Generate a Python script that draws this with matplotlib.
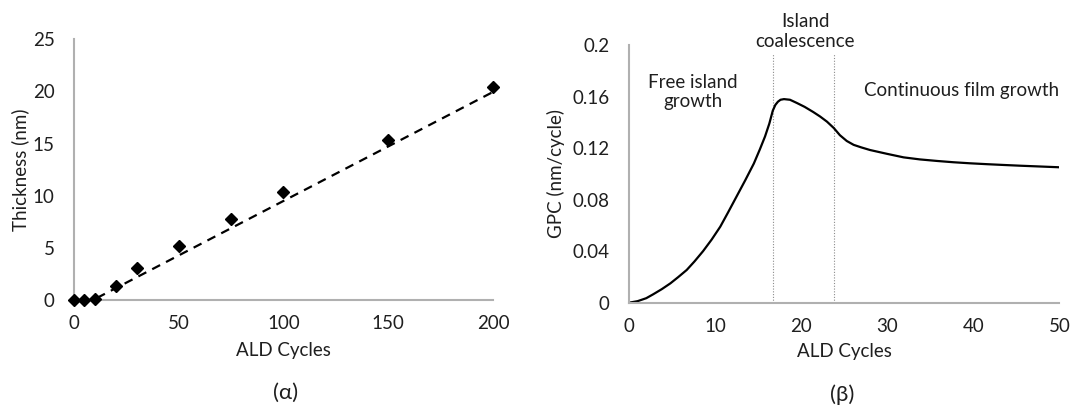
import matplotlib
matplotlib.use("Agg")
import matplotlib.pyplot as plt
import numpy as np

# (a) thickness vs ALD cycles
cycles_a = [0, 5, 10, 20, 30, 50, 75, 100, 150, 200]
thickness = [0.0, 0.0, 0.1, 1.3, 3.05, 5.15, 7.75, 10.4, 15.3, 20.4]
trend_x = [11, 200]
trend_y = [0.2, 19.95]

# (b) growth per cycle vs ALD cycles
cycles_b = [0, 1, 2, 2.8, 3.8, 4.8, 5.7, 6.7, 7.6, 8.6, 9.6, 10.6, 11.5, 12.5,
            13.5, 14.5, 15.2, 15.8, 16.3, 16.7, 17.0, 17.3, 17.6, 18.0, 18.7,
            19.5, 20.4, 21.4, 22.2, 23.0, 23.8, 24.5, 25.3, 26.1, 27.0, 28.0,
            30.0, 31.9, 33.8, 35.8, 37.7, 39.6, 41.6, 43.5, 45.5, 47.4, 50]
gpc = [0, 0.0012, 0.0035, 0.0065, 0.0105, 0.015, 0.0198, 0.0254, 0.032, 0.040,
       0.049, 0.059, 0.070, 0.0825, 0.095, 0.108, 0.119, 0.129, 0.139, 0.149,
       0.1535, 0.1560, 0.1575, 0.158, 0.1575, 0.155, 0.152, 0.148, 0.1445,
       0.1405, 0.1355, 0.130, 0.1255, 0.1225, 0.1205, 0.1185, 0.1155, 0.1128,
       0.1112, 0.110, 0.109, 0.1082, 0.1075, 0.1069, 0.1063, 0.1058, 0.1051]
regions = [16.7, 23.8]

plt.rcParams["font.family"] = ["Lato", "DejaVu Sans"]
plt.rcParams["font.size"] = 13.5
spine_color = "#b0b0b0"
text_color = "#1f1f1f"

fig = plt.figure(figsize=(10.72, 4.08), dpi=100)
ax1 = fig.add_axes([0.069, 0.2647, 0.3909, 0.639])
ax2 = fig.add_axes([0.5868, 0.2581, 0.4014, 0.6316])

for ax in (ax1, ax2):
    ax.spines["top"].set_visible(False)
    ax.spines["right"].set_visible(False)
    for s in ("left", "bottom"):
        ax.spines[s].set_color(spine_color)
        ax.spines[s].set_linewidth(1.5)
    ax.tick_params(length=0, colors=text_color, labelsize=13.5)
    ax.tick_params(axis="y", pad=14)
    ax.tick_params(axis="x", pad=11)

ax1.plot(trend_x, trend_y, color="black", lw=1.6, ls=(0, (4, 3)), zorder=2)
ax1.plot(cycles_a, thickness, ls="none", marker="D", ms=6.5, color="black",
         clip_on=False, zorder=3)
ax1.set_xlim(0, 200)
ax1.set_ylim(0, 25)
ax1.set_xticks([0, 50, 100, 150, 200])
ax1.set_yticks([0, 5, 10, 15, 20, 25])
ax1.set_xlabel("ALD Cycles", color=text_color)
ax1.set_ylabel("Thickness (nm)", color=text_color)
ax1.xaxis.set_label_coords(0.5, -0.16)
ax1.yaxis.set_label_coords(-0.107, 0.5)

for xv in regions:
    ax2.plot([xv, xv], [0, 0.193], color="#8c8c8c", lw=0.8, ls=(0, (1, 1.5)),
             clip_on=False, zorder=1)
ax2.plot(cycles_b, gpc, color="black", lw=1.6, zorder=2)
ax2.set_xlim(0, 50)
ax2.set_ylim(0, 0.2)
ax2.set_xticks([0, 10, 20, 30, 40, 50])
ax2.set_yticks([0, 0.04, 0.08, 0.12, 0.16, 0.2])
ax2.set_yticklabels(["0", "0.04", "0.08", "0.12", "0.16", "0.2"])
ax2.set_xlabel("ALD Cycles", color=text_color)
ax2.set_ylabel("GPC (nm/cycle)", color=text_color)
ax2.xaxis.set_label_coords(0.5, -0.156)
ax2.yaxis.set_label_coords(-0.15, 0.5)

ax2.text(7.4, 0.1635, "Free island\ngrowth", ha="center", va="center",
         color=text_color, linespacing=1.2)
ax2.text(20.45, 0.2105, "Island\ncoalescence", ha="center", va="center",
         color=text_color, linespacing=1.2, clip_on=False)
ax2.text(50, 0.165, "Continuous film growth", ha="right", va="center",
         color=text_color)

fig.text(0.266, 0.037, "(\u03b1)", ha="center", va="center", color=text_color,
         fontsize=16)
fig.text(0.786, 0.033, "(\u03b2)", ha="center", va="center", color=text_color,
         fontsize=16)

fig.savefig("out.png", dpi=100)
